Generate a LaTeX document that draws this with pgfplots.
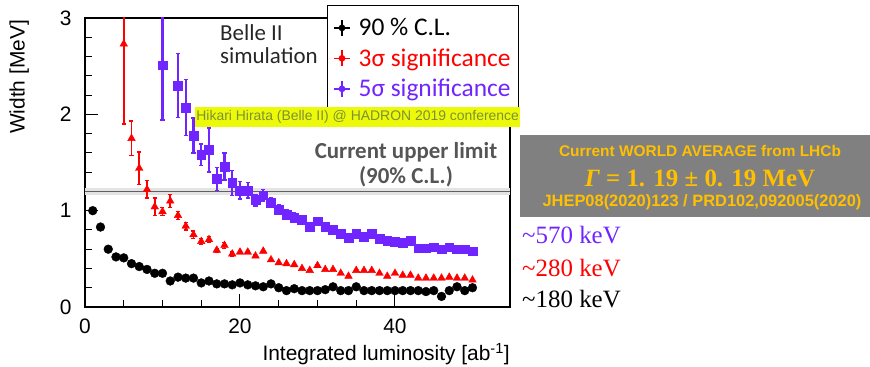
\documentclass[border=0pt]{standalone}
\usepackage[no-math]{fontspec}
\setmainfont{Liberation Sans}
\newfontfamily\carlito{Carlito}
\newfontfamily\tnr{Liberation Serif}
\usepackage{pgfplots}
\usepackage{pgfplotstable}
\pgfplotsset{compat=1.18}
\definecolor{vio}{RGB}{112,36,255}
\definecolor{hlyellow}{RGB}{236,250,10}
\definecolor{olivetxt}{RGB}{125,145,50}
\definecolor{gold}{RGB}{255,192,0}
\definecolor{boxgray}{RGB}{128,128,128}
\definecolor{lblgray}{RGB}{85,85,85}

\pgfplotstableread{
x y
1 1.00
2 0.83
3 0.60
4 0.52
5 0.51
6 0.45
7 0.42
8 0.39
9 0.35
10 0.35
11 0.27
12 0.31
13 0.30
14 0.30
15 0.25
16 0.27
17 0.24
18 0.24
19 0.23
20 0.25
21 0.23
22 0.22
23 0.21
24 0.24
25 0.20
26 0.17
27 0.19
28 0.17
29 0.17
30 0.17
31 0.18
32 0.21
33 0.17
34 0.17
35 0.21
36 0.17
37 0.17
38 0.17
39 0.17
40 0.17
41 0.17
42 0.17
43 0.17
44 0.16
45 0.17
46 0.11
47 0.17
48 0.21
49 0.17
50 0.20
}\blackdata

\pgfplotstableread{
x y e
5 2.73 0.83
6 1.75 0.18
7 1.44 0.17
8 1.22 0.09
9 1.04 0.09
10 0.99 0.04
11 1.10 0.07
12 0.95 0.04
13 0.84 0.04
14 0.75 0.04
15 0.68 0.03
16 0.70 0.03
17 0.59 0.02
18 0.64 0.03
19 0.55 0.02
20 0.57 0.01
21 0.57 0.01
22 0.53 0.01
23 0.58 0.01
24 0.49 0.005
25 0.46 0.005
26 0.45 0.005
27 0.44 0.005
28 0.40 0.005
29 0.38 0.005
30 0.43 0.005
31 0.39 0.005
32 0.39 0.005
33 0.35 0.005
34 0.32 0.005
35 0.38 0.005
36 0.38 0.005
37 0.38 0.005
38 0.35 0.005
39 0.32 0.005
40 0.35 0.005
41 0.33 0.005
42 0.33 0.005
43 0.30 0.005
44 0.30 0.005
45 0.30 0.005
46 0.30 0.005
47 0.31 0.005
48 0.30 0.005
49 0.30 0.005
50 0.28 0.005
}\reddata

\pgfplotstableread{
x y e
10 2.51 0.57
12 2.30 0.33
13 2.07 0.29
14 1.78 0.18
15 1.58 0.11
16 1.63 0.23
17 1.33 0.12
18 1.46 0.14
19 1.29 0.13
20 1.21 0.09
21 1.21 0.08
22 1.11 0.06
23 1.16 0.06
24 1.08 0.05
25 1.01 0.05
26 0.96 0.05
27 0.93 0.05
28 0.91 0.04
29 0.83 0.04
30 0.89 0.04
31 0.83 0.03
32 0.80 0.03
33 0.76 0.02
34 0.72 0.02
35 0.76 0.02
36 0.73 0.02
37 0.76 0.03
38 0.71 0.01
39 0.69 0.01
40 0.68 0.01
41 0.67 0.02
42 0.69 0.01
43 0.61 0.01
44 0.61 0.005
45 0.62 0.005
46 0.60 0.005
47 0.62 0.005
48 0.60 0.005
49 0.60 0.005
50 0.58 0.005
}\viodata

\begin{document}
\begin{tikzpicture}
\path[use as bounding box] (0,0) rectangle (870bp,367bp);
\begin{axis}[
  at={(85bp,60bp)}, anchor=south west, scale only axis,
  width=425bp, height=289bp,
  xmin=0, xmax=54.84, ymin=0, ymax=3,
  xtick={0,20,40}, ytick={0,1,2,3},
  minor x tick num=3, minor y tick num=4,
  tick align=inside, tick pos=left,
  major tick length=13bp, minor tick length=7bp,
  every tick/.style={black, line width=1bp},
  axis line style={line width=1.2bp},
  tick label style={font=\fontsize{21}{25}\selectfont},
  /pgf/number format/assume math mode=true,
  yticklabel style={xshift=-10bp},
  xticklabel style={yshift=-8bp},
  xlabel={Integrated luminosity [ab\textsuperscript{-1}]},
  ylabel={Width [MeV]},
  label style={font=\fontsize{21}{25}\selectfont},
  xlabel style={at={(axis description cs:1,0)}, anchor=north east, yshift=-36bp, inner sep=0pt},
  ylabel style={at={(axis description cs:-0.155,0.796)}, anchor=center, inner sep=0pt},
  legend style={at={(axis description cs:0.569,1.045)}, anchor=north west,
    draw=black, line width=1bp, fill=white,
    font=\carlito\fontsize{25.5}{28}\selectfont,
    inner xsep=6bp, inner ysep=11bp, row sep=7.5bp, column sep=6bp},
  legend cell align=left,
]
\addplot[draw=none, fill=gray!22, forget plot] coordinates {(0,1.16) (54.84,1.16) (54.84,1.235) (0,1.235)} -- cycle;
\addplot[gray!75!black, line width=1.6bp, forget plot] coordinates {(0,1.2) (54.84,1.2)};

\addplot[only marks, black, mark=*, mark size=4.4bp,
  legend image code/.code={\draw[line width=1.3bp] (0bp,0bp)--(16bp,0bp) (8bp,-8bp)--(8bp,8bp); \fill (8bp,0bp) circle (2.8bp);}]
  table[x=x,y=y]{\blackdata};
\addlegendentry{90 \% C.L.}

\addplot[only marks, red, mark=triangle*, mark size=4.4bp,
  legend image code/.code={\draw[line width=1.3bp] (0bp,0bp)--(16bp,0bp) (8bp,-8bp)--(8bp,8bp); \fill (8bp,0bp) circle (2.8bp);},
  error bars/.cd, y dir=both, y explicit,
  error bar style={line width=1.8bp},
  error mark options={rotate=90, mark size=2bp, line width=1.3bp}]
  table[x=x,y=y,y error=e]{\reddata};
\addlegendentry{\textcolor{red}{3σ significance}}

\addplot[only marks, vio, mark=square*, mark size=4.4bp,
  legend image code/.code={\draw[line width=1.3bp] (0bp,0bp)--(16bp,0bp) (8bp,-8bp)--(8bp,8bp); \fill (8bp,0bp) circle (2.8bp);},
  error bars/.cd, y dir=both, y explicit,
  error bar style={line width=2.2bp},
  error mark options={rotate=90, mark size=2.2bp, line width=1.4bp}]
  table[x=x,y=y,y error=e]{\viodata};
\addlegendentry{\textcolor{vio}{5σ significance}}
\end{axis}

\node[anchor=north west, inner sep=0pt, align=left, text=black!85,
  font=\carlito\fontsize{23}{23}\selectfont] at (220bp,343bp) {Belle II\\simulation};

\node[anchor=north west, fill=hlyellow, inner xsep=1bp, inner ysep=0pt,
  minimum width=325bp, minimum height=20bp, text=olivetxt,
  font=\fontsize{14}{16}\selectfont] at (195bp,260bp)
  {Hikari Hirata (Belle II) @ HADRON 2019 conference};

\node[anchor=north, inner sep=0pt, align=center, text=lblgray,
  font=\carlito\bfseries\fontsize{23}{25}\selectfont] at (406bp,225bp)
  {Current upper limit\\(90\% C.L.)};

\node[anchor=north west, fill=boxgray, inner sep=0pt,
  minimum width=350bp, minimum height=82bp] at (520bp,232bp) {};
\node[anchor=base, inner sep=0pt, text=gold, font=\bfseries\fontsize{15.5}{17}\selectfont]
  at (700bp,210bp) {Current WORLD AVERAGE from LHCb};
\node[anchor=base, inner sep=0pt, text=gold, font=\tnr\bfseries\fontsize{25}{27}\selectfont]
  at (700bp,180bp) {{\itshape Γ} = 1. 19 ± 0. 19 MeV};
\node[anchor=base, inner sep=0pt, text=gold, font=\bfseries\fontsize{16.5}{18}\selectfont]
  at (702bp,160bp) {JHEP08(2020)123 / PRD102,092005(2020)};

\node[anchor=base west, inner sep=0pt, text=vio, font=\tnr\fontsize{25}{25}\selectfont]
  at (522bp,123bp) {\textasciitilde570 keV};
\node[anchor=base west, inner sep=0pt, text=red, font=\tnr\fontsize{25}{25}\selectfont]
  at (522bp,90bp) {\textasciitilde280 keV};
\node[anchor=base west, inner sep=0pt, text=black, font=\tnr\fontsize{25}{25}\selectfont]
  at (522bp,59bp) {\textasciitilde180 keV};
\end{tikzpicture}
\end{document}
